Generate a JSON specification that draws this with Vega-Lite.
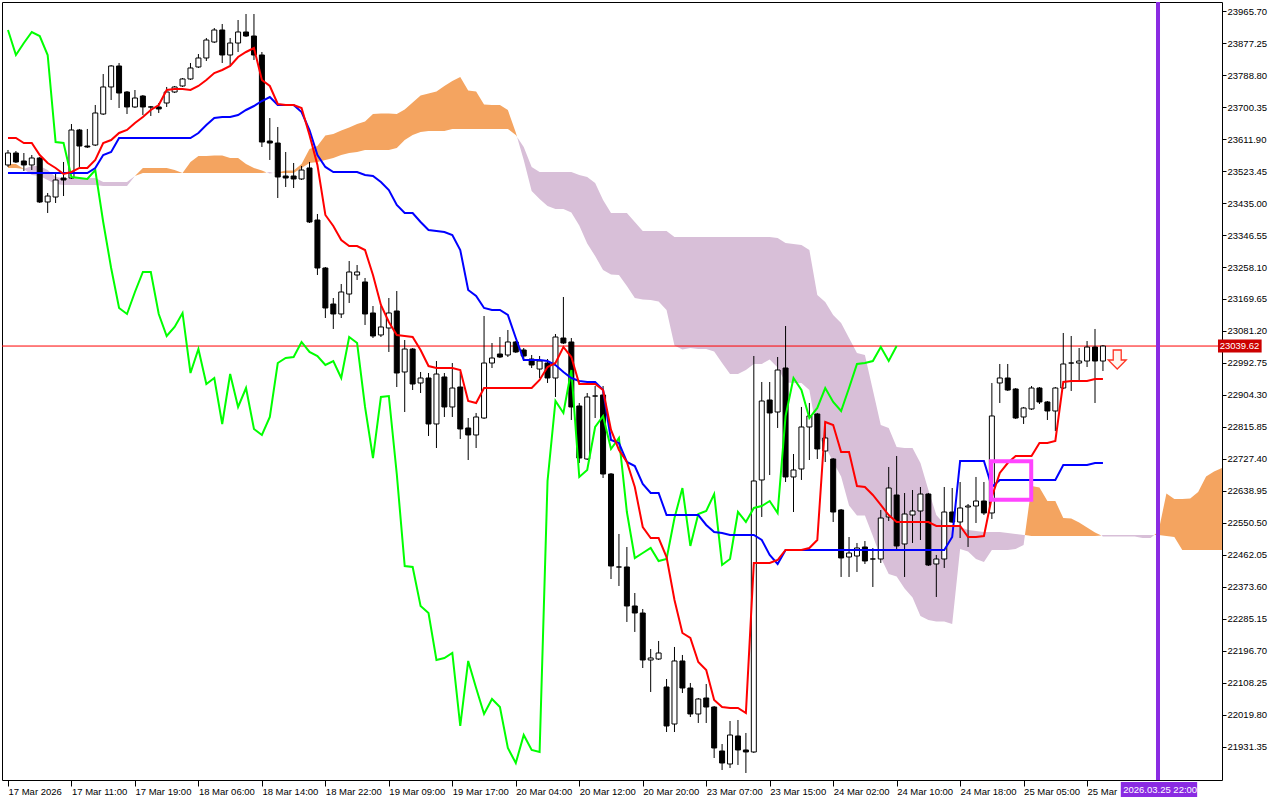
{
"$schema":"https://vega.github.io/schema/vega-lite/v6.json",
"width":1220,"height":778,"autosize":"none",
"padding":{"left":2,"top":2,"right":58,"bottom":20},
"background":"#ffffff",
"resolve":{"axis":{"x":"independent","y":"independent"}},
"config":{"view":{"stroke":"#000000","strokeWidth":1},"axis":{"labelFont":"Liberation Sans","labelColor":"#000000","tickColor":"#000000","domain":false,"grid":false,"title":null,"labelOverlap":false,"labelFlush":false,"labelBound":false}},
"datasets":{
"bars":[
{"i":0,"o":23540.1,"h":23581.5,"l":23534.6,"c":23573.2,"t":23614.6,"k":23517.9},
{"i":1,"o":23573.2,"h":23578.7,"l":23545.6,"c":23548.4,"t":23614.6,"k":23517.9},
{"i":2,"o":23551.1,"h":23573.2,"l":23523.4,"c":23540.1,"t":23600.8,"k":23517.9},
{"i":3,"o":23540.1,"h":23567.7,"l":23526.2,"c":23559.4,"t":23600.8,"k":23517.9},
{"i":4,"o":23559.4,"h":23562.2,"l":23435.0,"c":23437.8,"t":23567.7,"k":23517.9},
{"i":5,"o":23437.8,"h":23462.6,"l":23407.4,"c":23454.3,"t":23545.6,"k":23517.9},
{"i":6,"o":23451.5,"h":23517.9,"l":23435.0,"c":23498.6,"t":23531.8,"k":23517.9},
{"i":7,"o":23504.1,"h":23548.4,"l":23454.3,"c":23498.6,"t":23515.1,"k":23517.9},
{"i":8,"o":23504.1,"h":23653.3,"l":23501.4,"c":23636.8,"t":23520.7,"k":23517.9},
{"i":9,"o":23636.8,"h":23639.6,"l":23534.6,"c":23592.5,"t":23531.8,"k":23517.9},
{"i":10,"o":23592.5,"h":23639.6,"l":23587.0,"c":23589.8,"t":23531.8,"k":23517.9},
{"i":11,"o":23595.3,"h":23705.9,"l":23592.5,"c":23683.8,"t":23553.9,"k":23531.8},
{"i":12,"o":23681.0,"h":23791.5,"l":23678.3,"c":23755.7,"t":23600.8,"k":23567.7},
{"i":13,"o":23755.7,"h":23816.4,"l":23719.7,"c":23813.7,"t":23609.1,"k":23576.0},
{"i":14,"o":23813.7,"h":23822.0,"l":23697.6,"c":23739.0,"t":23628.5,"k":23614.6},
{"i":15,"o":23741.8,"h":23744.5,"l":23681.0,"c":23700.4,"t":23636.8,"k":23614.6},
{"i":16,"o":23700.4,"h":23747.3,"l":23697.6,"c":23725.2,"t":23656.1,"k":23614.6},
{"i":17,"o":23730.7,"h":23733.5,"l":23678.3,"c":23700.4,"t":23672.7,"k":23614.6},
{"i":18,"o":23700.4,"h":23703.1,"l":23675.5,"c":23700.4,"t":23692.1,"k":23614.6},
{"i":19,"o":23700.4,"h":23711.4,"l":23683.8,"c":23694.9,"t":23705.9,"k":23614.6},
{"i":20,"o":23711.4,"h":23755.7,"l":23700.4,"c":23741.8,"t":23747.3,"k":23614.6},
{"i":21,"o":23741.8,"h":23758.4,"l":23739.0,"c":23755.7,"t":23750.1,"k":23614.6},
{"i":22,"o":23758.4,"h":23780.5,"l":23755.7,"c":23777.8,"t":23750.1,"k":23614.6},
{"i":23,"o":23777.8,"h":23822.0,"l":23775.0,"c":23808.2,"t":23747.3,"k":23614.6},
{"i":24,"o":23811.0,"h":23846.8,"l":23808.2,"c":23835.8,"t":23758.4,"k":23628.5},
{"i":25,"o":23835.8,"h":23891.1,"l":23827.5,"c":23885.5,"t":23775.0,"k":23650.6},
{"i":26,"o":23880.0,"h":23918.7,"l":23877.2,"c":23913.2,"t":23794.3,"k":23669.9},
{"i":27,"o":23913.2,"h":23929.8,"l":23822.0,"c":23844.1,"t":23802.6,"k":23672.7},
{"i":28,"o":23844.1,"h":23891.1,"l":23816.4,"c":23877.2,"t":23813.7,"k":23672.7},
{"i":29,"o":23877.2,"h":23940.8,"l":23852.4,"c":23907.7,"t":23838.6,"k":23678.3},
{"i":30,"o":23907.7,"h":23957.4,"l":23893.8,"c":23896.6,"t":23852.4,"k":23692.1},
{"i":31,"o":23896.6,"h":23957.4,"l":23830.3,"c":23844.1,"t":23863.4,"k":23703.1},
{"i":32,"o":23844.1,"h":23852.4,"l":23589.8,"c":23603.6,"t":23775.0,"k":23716.9},
{"i":33,"o":23606.3,"h":23669.9,"l":23553.9,"c":23600.8,"t":23758.4,"k":23728.0},
{"i":34,"o":23600.8,"h":23645.1,"l":23448.8,"c":23506.9,"t":23708.6,"k":23705.9},
{"i":35,"o":23509.6,"h":23576.0,"l":23479.2,"c":23504.1,"t":23705.9,"k":23705.9},
{"i":36,"o":23509.6,"h":23545.6,"l":23476.4,"c":23501.4,"t":23705.9,"k":23705.9},
{"i":37,"o":23501.4,"h":23537.3,"l":23498.6,"c":23526.2,"t":23697.6,"k":23686.5},
{"i":38,"o":23531.8,"h":23548.4,"l":23379.7,"c":23382.5,"t":23622.9,"k":23636.8},
{"i":39,"o":23388.0,"h":23404.6,"l":23236.0,"c":23255.3,"t":23540.1,"k":23567.7},
{"i":40,"o":23255.3,"h":23258.1,"l":23117.1,"c":23144.8,"t":23401.9,"k":23534.6},
{"i":41,"o":23155.8,"h":23172.4,"l":23086.8,"c":23128.2,"t":23371.4,"k":23520.7},
{"i":42,"o":23128.2,"h":23211.1,"l":23117.1,"c":23189.0,"t":23332.7,"k":23520.7},
{"i":43,"o":23183.4,"h":23274.6,"l":23158.6,"c":23244.3,"t":23316.1,"k":23520.7},
{"i":44,"o":23236.0,"h":23263.6,"l":23222.2,"c":23244.3,"t":23316.1,"k":23520.7},
{"i":45,"o":23216.7,"h":23227.7,"l":23097.8,"c":23128.2,"t":23305.1,"k":23512.4},
{"i":46,"o":23131.0,"h":23150.3,"l":23061.8,"c":23067.4,"t":23236.0,"k":23509.6},
{"i":47,"o":23070.2,"h":23150.3,"l":23064.6,"c":23092.3,"t":23153.1,"k":23493.0},
{"i":48,"o":23089.5,"h":23172.4,"l":23023.2,"c":23131.0,"t":23106.1,"k":23470.9},
{"i":49,"o":23136.5,"h":23191.7,"l":22926.4,"c":22965.1,"t":23070.2,"k":23429.5},
{"i":50,"o":22967.9,"h":23056.3,"l":22857.3,"c":23031.4,"t":23067.4,"k":23407.4},
{"i":51,"o":23031.4,"h":23034.2,"l":22918.1,"c":22934.7,"t":23064.6,"k":23407.4},
{"i":52,"o":22937.5,"h":22967.9,"l":22909.8,"c":22951.3,"t":23028.7,"k":23382.5},
{"i":53,"o":22951.3,"h":22965.1,"l":22791.0,"c":22824.2,"t":22984.4,"k":23360.4},
{"i":54,"o":22824.2,"h":22998.2,"l":22757.8,"c":22962.3,"t":22978.9,"k":23357.6},
{"i":55,"o":22954.1,"h":22965.1,"l":22843.5,"c":22871.2,"t":22978.9,"k":23354.8},
{"i":56,"o":22871.2,"h":22992.7,"l":22843.5,"c":22923.6,"t":22978.9,"k":23346.5},
{"i":57,"o":22926.4,"h":22967.9,"l":22782.7,"c":22810.4,"t":22973.4,"k":23305.1},
{"i":58,"o":22813.1,"h":22840.7,"l":22724.6,"c":22793.8,"t":22887.7,"k":23194.5},
{"i":59,"o":22793.8,"h":22854.6,"l":22757.8,"c":22843.5,"t":22882.2,"k":23177.9},
{"i":60,"o":22840.7,"h":23122.7,"l":22838.0,"c":22992.7,"t":22923.6,"k":23144.8},
{"i":61,"o":22992.7,"h":23048.0,"l":22978.9,"c":23006.5,"t":22923.6,"k":23139.3},
{"i":62,"o":23017.6,"h":23064.6,"l":23006.5,"c":23009.3,"t":22923.6,"k":23139.3},
{"i":63,"o":23014.9,"h":23084.0,"l":23009.3,"c":23050.8,"t":22923.6,"k":23125.5},
{"i":64,"o":23050.8,"h":23053.5,"l":23020.4,"c":23023.2,"t":22923.6,"k":23061.8},
{"i":65,"o":23028.7,"h":23034.2,"l":23001.0,"c":23012.1,"t":22923.6,"k":23001.0},
{"i":66,"o":23003.8,"h":23014.9,"l":22978.9,"c":22987.2,"t":22923.6,"k":23001.0},
{"i":67,"o":22976.1,"h":23012.1,"l":22951.3,"c":22998.2,"t":22945.8,"k":23001.0},
{"i":68,"o":22992.7,"h":23003.8,"l":22937.5,"c":22951.3,"t":22981.7,"k":22998.2},
{"i":69,"o":22951.3,"h":23072.9,"l":22898.8,"c":23064.6,"t":22992.7,"k":22987.2},
{"i":70,"o":23061.8,"h":23175.2,"l":23045.2,"c":23048.0,"t":23037.0,"k":22967.9},
{"i":71,"o":23050.8,"h":23061.8,"l":22835.2,"c":22871.2,"t":23009.3,"k":22951.3},
{"i":72,"o":22873.9,"h":22882.2,"l":22716.3,"c":22730.1,"t":22934.7,"k":22943.0},
{"i":73,"o":22727.4,"h":22909.8,"l":22724.6,"c":22898.8,"t":22934.7,"k":22940.2},
{"i":74,"o":22901.5,"h":22929.2,"l":22840.7,"c":22901.5,"t":22934.7,"k":22940.2},
{"i":75,"o":22904.3,"h":22929.2,"l":22674.9,"c":22685.9,"t":22918.1,"k":22918.1},
{"i":76,"o":22685.9,"h":22688.7,"l":22395.7,"c":22431.6,"t":22807.6,"k":22779.9},
{"i":77,"o":22428.9,"h":22520.1,"l":22376.4,"c":22428.9,"t":22752.3,"k":22771.6},
{"i":78,"o":22428.9,"h":22484.2,"l":22276.9,"c":22321.1,"t":22719.1,"k":22719.1},
{"i":79,"o":22321.1,"h":22357.0,"l":22249.3,"c":22301.7,"t":22650.0,"k":22708.1},
{"i":80,"o":22301.7,"h":22312.8,"l":22149.7,"c":22171.8,"t":22539.4,"k":22658.3},
{"i":81,"o":22171.8,"h":22202.2,"l":22083.4,"c":22177.4,"t":22509.0,"k":22633.4},
{"i":82,"o":22174.6,"h":22224.4,"l":22171.8,"c":22191.2,"t":22509.0,"k":22633.4},
{"i":83,"o":22097.2,"h":22119.3,"l":21972.8,"c":21989.4,"t":22456.5,"k":22572.6},
{"i":84,"o":21994.9,"h":22207.8,"l":21972.8,"c":22169.1,"t":22337.7,"k":22572.6},
{"i":85,"o":22169.1,"h":22185.7,"l":22080.6,"c":22094.4,"t":22246.5,"k":22572.6},
{"i":86,"o":22094.4,"h":22108.3,"l":22014.3,"c":22022.6,"t":22232.6,"k":22572.6},
{"i":87,"o":22022.6,"h":22066.8,"l":21997.7,"c":22064.0,"t":22166.3,"k":22572.6},
{"i":88,"o":22066.8,"h":22105.5,"l":21997.7,"c":22041.9,"t":22144.2,"k":22545.0},
{"i":89,"o":22041.9,"h":22044.7,"l":21900.9,"c":21928.6,"t":22061.3,"k":22525.6},
{"i":90,"o":21920.3,"h":21939.6,"l":21867.8,"c":21887.1,"t":22041.9,"k":22522.9},
{"i":91,"o":21884.4,"h":22003.2,"l":21873.3,"c":21964.5,"t":22039.2,"k":22517.4},
{"i":92,"o":21961.8,"h":22006.0,"l":21881.6,"c":21923.1,"t":22039.2,"k":22517.4},
{"i":93,"o":21923.1,"h":21970.1,"l":21859.5,"c":21917.6,"t":22025.3,"k":22517.4},
{"i":94,"o":21917.6,"h":23012.1,"l":21914.8,"c":22666.6,"t":22440.0,"k":22517.4},
{"i":95,"o":22669.4,"h":22940.2,"l":22567.1,"c":22887.7,"t":22440.0,"k":22503.5},
{"i":96,"o":22890.5,"h":22940.2,"l":22683.1,"c":22854.6,"t":22440.0,"k":22462.1},
{"i":97,"o":22857.3,"h":23009.3,"l":22813.1,"c":22973.4,"t":22448.2,"k":22437.2},
{"i":98,"o":22978.9,"h":23095.0,"l":22663.8,"c":22677.7,"t":22475.9,"k":22475.9},
{"i":99,"o":22677.7,"h":22741.2,"l":22580.9,"c":22697.0,"t":22475.9,"k":22475.9},
{"i":100,"o":22699.8,"h":22871.2,"l":22669.4,"c":22815.9,"t":22475.9,"k":22475.9},
{"i":101,"o":22815.9,"h":22882.2,"l":22724.6,"c":22846.3,"t":22481.4,"k":22475.9},
{"i":102,"o":22851.8,"h":22854.6,"l":22727.4,"c":22755.1,"t":22503.5,"k":22475.9},
{"i":103,"o":22749.5,"h":22829.7,"l":22719.1,"c":22785.5,"t":22829.7,"k":22475.9},
{"i":104,"o":22727.4,"h":22730.1,"l":22553.3,"c":22580.9,"t":22821.4,"k":22475.9},
{"i":105,"o":22586.5,"h":22589.2,"l":22401.3,"c":22453.8,"t":22746.8,"k":22475.9},
{"i":106,"o":22456.5,"h":22511.8,"l":22401.3,"c":22467.6,"t":22746.8,"k":22475.9},
{"i":107,"o":22459.3,"h":22495.2,"l":22415.1,"c":22481.4,"t":22652.7,"k":22475.9},
{"i":108,"o":22484.2,"h":22500.7,"l":22437.2,"c":22445.5,"t":22650.0,"k":22475.9},
{"i":109,"o":22451.0,"h":22481.4,"l":22373.6,"c":22451.0,"t":22627.9,"k":22475.9},
{"i":110,"o":22451.0,"h":22586.5,"l":22440.0,"c":22564.3,"t":22600.3,"k":22475.9},
{"i":111,"o":22567.1,"h":22705.3,"l":22556.0,"c":22647.2,"t":22572.6,"k":22475.9},
{"i":112,"o":22627.9,"h":22735.7,"l":22475.9,"c":22487.0,"t":22553.3,"k":22475.9},
{"i":113,"o":22492.5,"h":22633.4,"l":22401.3,"c":22575.4,"t":22553.3,"k":22475.9},
{"i":114,"o":22572.6,"h":22641.7,"l":22495.2,"c":22583.7,"t":22553.3,"k":22475.9},
{"i":115,"o":22583.7,"h":22650.0,"l":22503.5,"c":22630.6,"t":22553.3,"k":22475.9},
{"i":116,"o":22630.6,"h":22633.4,"l":22431.6,"c":22434.4,"t":22553.3,"k":22475.9},
{"i":117,"o":22437.2,"h":22462.1,"l":22346.0,"c":22451.0,"t":22542.2,"k":22475.9},
{"i":118,"o":22451.0,"h":22650.0,"l":22426.2,"c":22580.9,"t":22542.2,"k":22475.9},
{"i":119,"o":22580.9,"h":22647.2,"l":22550.5,"c":22553.3,"t":22542.2,"k":22511.8},
{"i":120,"o":22553.3,"h":22663.8,"l":22509.0,"c":22592.0,"t":22542.2,"k":22721.9},
{"i":121,"o":22594.7,"h":22603.0,"l":22484.2,"c":22597.5,"t":22511.8,"k":22721.9},
{"i":122,"o":22597.5,"h":22677.7,"l":22550.5,"c":22611.3,"t":22511.8,"k":22721.9},
{"i":123,"o":22611.3,"h":22663.8,"l":22572.6,"c":22578.2,"t":22514.6,"k":22721.9},
{"i":124,"o":22578.2,"h":22937.5,"l":22561.6,"c":22846.3,"t":22622.4,"k":22650.0},
{"i":125,"o":22937.5,"h":22990.0,"l":22882.2,"c":22951.3,"t":22688.7,"k":22669.4},
{"i":126,"o":22951.3,"h":22990.0,"l":22915.4,"c":22918.1,"t":22716.3,"k":22669.4},
{"i":127,"o":22920.9,"h":22923.6,"l":22838.0,"c":22840.7,"t":22735.7,"k":22669.4},
{"i":128,"o":22843.5,"h":22871.2,"l":22824.2,"c":22868.4,"t":22735.7,"k":22669.4},
{"i":129,"o":22865.7,"h":22929.2,"l":22862.9,"c":22923.6,"t":22735.7,"k":22669.4},
{"i":130,"o":22923.6,"h":22926.4,"l":22879.4,"c":22885.0,"t":22771.6,"k":22669.4},
{"i":131,"o":22885.0,"h":22887.7,"l":22835.2,"c":22860.1,"t":22771.6,"k":22669.4},
{"i":132,"o":22860.1,"h":22926.4,"l":22804.8,"c":22923.6,"t":22777.2,"k":22669.4},
{"i":133,"o":22923.6,"h":23075.7,"l":22920.9,"c":22990.0,"t":22940.2,"k":22710.8},
{"i":134,"o":22992.7,"h":23067.4,"l":22915.4,"c":22992.7,"t":22943.0,"k":22710.8},
{"i":135,"o":22992.7,"h":23034.2,"l":22943.0,"c":22998.2,"t":22943.0,"k":22710.8},
{"i":136,"o":22998.2,"h":23053.5,"l":22981.7,"c":23036.9,"t":22943.0,"k":22710.8},
{"i":137,"o":23036.9,"h":23086.8,"l":22882.2,"c":22998.2,"t":22948.5,"k":22716.3},
{"i":138,"o":22998.2,"h":23042.4,"l":22970.7,"c":23039.62,"t":22948.5,"k":22716.3}
],
"chikou":[
{"i":0,"v":23913.2},{"i":1,"v":23844.1},{"i":2,"v":23877.2},{"i":3,"v":23907.7},{"i":4,"v":23896.6},{"i":5,"v":23844.1},{"i":6,"v":23603.6},{"i":7,"v":23600.8},{"i":8,"v":23506.9},{"i":9,"v":23504.1},
{"i":10,"v":23501.4},{"i":11,"v":23526.2},{"i":12,"v":23382.5},{"i":13,"v":23255.3},{"i":14,"v":23144.8},{"i":15,"v":23128.2},{"i":16,"v":23189.0},{"i":17,"v":23244.3},{"i":18,"v":23244.3},{"i":19,"v":23128.2},
{"i":20,"v":23067.4},{"i":21,"v":23092.3},{"i":22,"v":23131.0},{"i":23,"v":22965.1},{"i":24,"v":23031.4},{"i":25,"v":22934.7},{"i":26,"v":22951.3},{"i":27,"v":22824.2},{"i":28,"v":22962.3},{"i":29,"v":22871.2},
{"i":30,"v":22923.6},{"i":31,"v":22810.4},{"i":32,"v":22793.8},{"i":33,"v":22843.5},{"i":34,"v":22992.7},{"i":35,"v":23006.5},{"i":36,"v":23009.3},{"i":37,"v":23050.8},{"i":38,"v":23023.2},{"i":39,"v":23012.1},
{"i":40,"v":22987.2},{"i":41,"v":22998.2},{"i":42,"v":22951.3},{"i":43,"v":23064.6},{"i":44,"v":23048.0},{"i":45,"v":22871.2},{"i":46,"v":22730.1},{"i":47,"v":22898.8},{"i":48,"v":22901.5},{"i":49,"v":22685.9},
{"i":50,"v":22431.6},{"i":51,"v":22428.9},{"i":52,"v":22321.1},{"i":53,"v":22301.7},{"i":54,"v":22171.8},{"i":55,"v":22177.4},{"i":56,"v":22191.2},{"i":57,"v":21989.4},{"i":58,"v":22169.1},{"i":59,"v":22094.4},
{"i":60,"v":22022.6},{"i":61,"v":22064.0},{"i":62,"v":22041.9},{"i":63,"v":21928.6},{"i":64,"v":21887.1},{"i":65,"v":21964.5},{"i":66,"v":21923.1},{"i":67,"v":21917.6},{"i":68,"v":22666.6},{"i":69,"v":22887.7},
{"i":70,"v":22854.6},{"i":71,"v":22973.4},{"i":72,"v":22677.7},{"i":73,"v":22697.0},{"i":74,"v":22815.9},{"i":75,"v":22846.3},{"i":76,"v":22755.1},{"i":77,"v":22785.5},{"i":78,"v":22580.9},{"i":79,"v":22453.8},
{"i":80,"v":22467.6},{"i":81,"v":22481.4},{"i":82,"v":22445.5},{"i":83,"v":22451.0},{"i":84,"v":22564.3},{"i":85,"v":22647.2},{"i":86,"v":22487.0},{"i":87,"v":22575.4},{"i":88,"v":22583.7},{"i":89,"v":22630.6},
{"i":90,"v":22434.4},{"i":91,"v":22451.0},{"i":92,"v":22580.9},{"i":93,"v":22553.3},{"i":94,"v":22592.0},{"i":95,"v":22597.5},{"i":96,"v":22611.3},{"i":97,"v":22578.2},{"i":98,"v":22846.3},{"i":99,"v":22951.3},
{"i":100,"v":22918.1},{"i":101,"v":22840.7},{"i":102,"v":22868.4},{"i":103,"v":22923.6},{"i":104,"v":22885.0},{"i":105,"v":22860.1},{"i":106,"v":22923.6},{"i":107,"v":22990.0},{"i":108,"v":22992.7},{"i":109,"v":22998.2},
{"i":110,"v":23036.9},{"i":111,"v":22998.2},{"i":112,"v":23039.62}
],
"cloud":[
{"i":0,"a":23542.8,"b":23531.8,"g":1,"k":"o"},{"i":1,"a":23542.8,"b":23531.8,"g":1,"k":"o"},{"i":2,"a":23529.0,"b":23529.0,"g":1,"k":"o"},
{"i":2,"a":23529.0,"b":23529.0,"g":2,"k":"t"},{"i":3,"a":23512.4,"b":23537.3,"g":2,"k":"t"},{"i":4,"a":23509.6,"b":23537.3,"g":2,"k":"t"},{"i":5,"a":23498.6,"b":23526.2,"g":2,"k":"t"},{"i":6,"a":23487.5,"b":23506.9,"g":2,"k":"t"},
{"i":7,"a":23484.7,"b":23504.1,"g":2,"k":"t"},{"i":8,"a":23484.7,"b":23504.1,"g":2,"k":"t"},{"i":9,"a":23484.7,"b":23504.1,"g":2,"k":"t"},{"i":10,"a":23484.7,"b":23504.1,"g":2,"k":"t"},{"i":11,"a":23484.7,"b":23504.1,"g":2,"k":"t"},
{"i":12,"a":23482.0,"b":23493.0,"g":2,"k":"t"},{"i":13,"a":23482.0,"b":23493.0,"g":2,"k":"t"},{"i":14,"a":23482.0,"b":23493.0,"g":2,"k":"t"},{"i":15,"a":23482.0,"b":23493.0,"g":2,"k":"t"},{"i":16,"a":23509.6,"b":23509.6,"g":2,"k":"t"},
{"i":16,"a":23509.6,"b":23509.6,"g":3,"k":"o"},{"i":17,"a":23531.8,"b":23517.9,"g":3,"k":"o"},{"i":18,"a":23531.8,"b":23517.9,"g":3,"k":"o"},{"i":19,"a":23531.8,"b":23517.9,"g":3,"k":"o"},{"i":20,"a":23531.8,"b":23517.9,"g":3,"k":"o"},
{"i":21,"a":23526.2,"b":23517.9,"g":3,"k":"o"},{"i":22,"a":23517.9,"b":23517.9,"g":3,"k":"o"},{"i":23,"a":23548.4,"b":23517.9,"g":3,"k":"o"},{"i":24,"a":23564.9,"b":23517.9,"g":3,"k":"o"},{"i":25,"a":23564.9,"b":23517.9,"g":3,"k":"o"},
{"i":26,"a":23566.3,"b":23517.9,"g":3,"k":"o"},{"i":27,"a":23566.3,"b":23517.9,"g":3,"k":"o"},{"i":28,"a":23559.4,"b":23517.9,"g":3,"k":"o"},{"i":29,"a":23559.4,"b":23517.9,"g":3,"k":"o"},{"i":30,"a":23542.8,"b":23517.9,"g":3,"k":"o"},
{"i":31,"a":23531.8,"b":23517.9,"g":3,"k":"o"},{"i":32,"a":23524.8,"b":23517.9,"g":3,"k":"o"},{"i":32.6,"a":23519.3,"b":23519.3,"g":3,"k":"o"},
{"i":32.6,"a":23519.3,"b":23519.3,"g":4,"k":"t"},{"i":33,"a":23516.5,"b":23520.7,"g":4,"k":"t"},{"i":33.4,"a":23517.9,"b":23517.9,"g":4,"k":"t"},
{"i":33.4,"a":23517.9,"b":23517.9,"g":5,"k":"o"},{"i":34,"a":23519.3,"b":23517.9,"g":5,"k":"o"},{"i":35,"a":23524.8,"b":23517.9,"g":5,"k":"o"},{"i":36,"a":23524.8,"b":23517.9,"g":5,"k":"o"},{"i":37,"a":23542.8,"b":23531.8,"g":5,"k":"o"},
{"i":38,"a":23584.2,"b":23545.6,"g":5,"k":"o"},{"i":39,"a":23592.5,"b":23548.4,"g":5,"k":"o"},{"i":40,"a":23621.6,"b":23553.9,"g":5,"k":"o"},{"i":41,"a":23625.7,"b":23559.4,"g":5,"k":"o"},{"i":42,"a":23635.4,"b":23567.7,"g":5,"k":"o"},
{"i":43,"a":23643.7,"b":23573.2,"g":5,"k":"o"},{"i":44,"a":23653.3,"b":23576.0,"g":5,"k":"o"},{"i":45,"a":23660.3,"b":23581.5,"g":5,"k":"o"},{"i":46,"a":23681.0,"b":23581.5,"g":5,"k":"o"},{"i":47,"a":23682.4,"b":23581.5,"g":5,"k":"o"},
{"i":48,"a":23682.4,"b":23581.5,"g":5,"k":"o"},{"i":49,"a":23681.0,"b":23587.0,"g":5,"k":"o"},{"i":50,"a":23693.4,"b":23609.1,"g":5,"k":"o"},{"i":51,"a":23712.8,"b":23622.9,"g":5,"k":"o"},{"i":52,"a":23732.1,"b":23631.2,"g":5,"k":"o"},
{"i":53,"a":23737.6,"b":23634.0,"g":5,"k":"o"},{"i":54,"a":23743.2,"b":23634.0,"g":5,"k":"o"},{"i":55,"a":23758.4,"b":23634.0,"g":5,"k":"o"},{"i":56,"a":23772.2,"b":23639.6,"g":5,"k":"o"},{"i":57,"a":23783.3,"b":23639.6,"g":5,"k":"o"},
{"i":58,"a":23745.9,"b":23639.6,"g":5,"k":"o"},{"i":59,"a":23743.2,"b":23639.6,"g":5,"k":"o"},{"i":60,"a":23707.2,"b":23639.6,"g":5,"k":"o"},{"i":61,"a":23705.9,"b":23639.6,"g":5,"k":"o"},{"i":62,"a":23705.9,"b":23639.6,"g":5,"k":"o"},
{"i":63,"a":23692.1,"b":23639.6,"g":5,"k":"o"},{"i":64,"a":23629.9,"b":23622.9,"g":5,"k":"o"},{"i":64.16,"a":23617.4,"b":23617.4,"g":5,"k":"o"},
{"i":64.16,"a":23617.4,"b":23617.4,"g":6,"k":"t"},{"i":65,"a":23553.9,"b":23589.8,"g":6,"k":"t"},{"i":66,"a":23468.2,"b":23534.6,"g":6,"k":"t"},{"i":67,"a":23446.0,"b":23520.7,"g":6,"k":"t"},{"i":68,"a":23426.7,"b":23520.7,"g":6,"k":"t"},
{"i":69,"a":23418.4,"b":23520.7,"g":6,"k":"t"},{"i":70,"a":23418.4,"b":23520.7,"g":6,"k":"t"},{"i":71,"a":23408.7,"b":23520.7,"g":6,"k":"t"},{"i":72,"a":23372.8,"b":23512.4,"g":6,"k":"t"},{"i":73,"a":23323.1,"b":23506.9,"g":6,"k":"t"},
{"i":74,"a":23288.5,"b":23490.3,"g":6,"k":"t"},{"i":75,"a":23249.8,"b":23443.3,"g":6,"k":"t"},{"i":76,"a":23237.4,"b":23407.4,"g":6,"k":"t"},{"i":77,"a":23236.0,"b":23407.4,"g":6,"k":"t"},{"i":78,"a":23205.6,"b":23407.4,"g":6,"k":"t"},
{"i":79,"a":23172.4,"b":23382.5,"g":6,"k":"t"},{"i":80,"a":23168.3,"b":23357.6,"g":6,"k":"t"},{"i":81,"a":23166.9,"b":23357.6,"g":6,"k":"t"},{"i":82,"a":23162.8,"b":23357.6,"g":6,"k":"t"},{"i":83,"a":23139.3,"b":23357.6,"g":6,"k":"t"},
{"i":84,"a":23041.1,"b":23341.0,"g":6,"k":"t"},{"i":85,"a":23030.1,"b":23341.0,"g":6,"k":"t"},{"i":86,"a":23034.2,"b":23341.0,"g":6,"k":"t"},{"i":87,"a":23031.4,"b":23341.0,"g":6,"k":"t"},{"i":88,"a":23031.4,"b":23341.0,"g":6,"k":"t"},
{"i":89,"a":23024.5,"b":23341.0,"g":6,"k":"t"},{"i":90,"a":22992.7,"b":23341.0,"g":6,"k":"t"},{"i":91,"a":22962.3,"b":23341.0,"g":6,"k":"t"},{"i":92,"a":22962.3,"b":23341.0,"g":6,"k":"t"},{"i":93,"a":22973.4,"b":23341.0,"g":6,"k":"t"},
{"i":94,"a":22990.0,"b":23341.0,"g":6,"k":"t"},{"i":95,"a":22990.0,"b":23341.0,"g":6,"k":"t"},{"i":96,"a":23002.4,"b":23341.0,"g":6,"k":"t"},{"i":97,"a":22980.3,"b":23338.3,"g":6,"k":"t"},{"i":98,"a":22938.8,"b":23324.5,"g":6,"k":"t"},
{"i":99,"a":22937.5,"b":23321.7,"g":6,"k":"t"},{"i":100,"a":22937.5,"b":23318.9,"g":6,"k":"t"},{"i":101,"a":22918.1,"b":23305.1,"g":6,"k":"t"},{"i":102,"a":22793.8,"b":23180.7,"g":6,"k":"t"},{"i":103,"a":22762.0,"b":23161.4,"g":6,"k":"t"},
{"i":104,"a":22719.1,"b":23125.5,"g":6,"k":"t"},{"i":105,"a":22679.0,"b":23103.4,"g":6,"k":"t"},{"i":106,"a":22598.9,"b":23061.8,"g":6,"k":"t"},{"i":107,"a":22571.2,"b":23020.4,"g":6,"k":"t"},{"i":108,"a":22571.2,"b":23014.9,"g":6,"k":"t"},
{"i":109,"a":22514.6,"b":22918.1,"g":6,"k":"t"},{"i":110,"a":22455.2,"b":22821.4,"g":6,"k":"t"},{"i":111,"a":22409.6,"b":22813.1,"g":6,"k":"t"},{"i":112,"a":22402.7,"b":22760.6,"g":6,"k":"t"},{"i":113,"a":22369.5,"b":22757.8,"g":6,"k":"t"},
{"i":114,"a":22344.6,"b":22757.8,"g":6,"k":"t"},{"i":115,"a":22293.5,"b":22716.3,"g":6,"k":"t"},{"i":116,"a":22282.4,"b":22641.7,"g":6,"k":"t"},{"i":117,"a":22278.3,"b":22572.6,"g":6,"k":"t"},{"i":118,"a":22278.3,"b":22547.7,"g":6,"k":"t"},
{"i":119,"a":22271.4,"b":22542.2,"g":6,"k":"t"},{"i":120,"a":22478.7,"b":22539.4,"g":6,"k":"t"},{"i":121,"a":22471.8,"b":22531.2,"g":6,"k":"t"},{"i":122,"a":22451.0,"b":22528.4,"g":6,"k":"t"},{"i":123,"a":22442.8,"b":22525.6,"g":6,"k":"t"},
{"i":124,"a":22475.9,"b":22525.6,"g":6,"k":"t"},{"i":125,"a":22475.9,"b":22525.6,"g":6,"k":"t"},{"i":126,"a":22475.9,"b":22522.9,"g":6,"k":"t"},{"i":127,"a":22478.7,"b":22520.1,"g":6,"k":"t"},{"i":128,"a":22489.7,"b":22517.4,"g":6,"k":"t"},
{"i":128.17,"a":22517.4,"b":22517.4,"g":6,"k":"t"},
{"i":128.17,"a":22517.4,"b":22517.4,"g":7,"k":"o"},{"i":129,"a":22652.7,"b":22514.6,"g":7,"k":"o"},{"i":130,"a":22648.6,"b":22514.6,"g":7,"k":"o"},{"i":131,"a":22611.3,"b":22514.6,"g":7,"k":"o"},{"i":132,"a":22611.3,"b":22514.6,"g":7,"k":"o"},
{"i":133,"a":22564.3,"b":22514.6,"g":7,"k":"o"},{"i":134,"a":22562.9,"b":22514.6,"g":7,"k":"o"},{"i":135,"a":22551.9,"b":22514.6,"g":7,"k":"o"},{"i":136,"a":22538.0,"b":22514.6,"g":7,"k":"o"},{"i":137,"a":22524.3,"b":22514.6,"g":7,"k":"o"},
{"i":137.8,"a":22516.0,"b":22516.0,"g":7,"k":"o"},
{"i":137.8,"a":22516.0,"b":22516.0,"g":8,"k":"t"},{"i":138,"a":22513.2,"b":22517.4,"g":8,"k":"t"},{"i":139,"a":22513.2,"b":22517.4,"g":8,"k":"t"},{"i":140,"a":22513.2,"b":22517.4,"g":8,"k":"t"},{"i":141,"a":22513.2,"b":22517.4,"g":8,"k":"t"},
{"i":142,"a":22513.2,"b":22517.4,"g":8,"k":"t"},{"i":143,"a":22509.0,"b":22517.4,"g":8,"k":"t"},{"i":144,"a":22509.0,"b":22517.4,"g":8,"k":"t"},{"i":144.47,"a":22517.4,"b":22517.4,"g":8,"k":"t"},
{"i":144.47,"a":22517.4,"b":22517.4,"g":9,"k":"o"},{"i":145,"a":22527.0,"b":22517.4,"g":9,"k":"o"},{"i":146,"a":22632.0,"b":22514.6,"g":9,"k":"o"},{"i":147,"a":22616.8,"b":22511.8,"g":9,"k":"o"},{"i":148,"a":22616.8,"b":22475.9,"g":9,"k":"o"},
{"i":149,"a":22618.2,"b":22475.9,"g":9,"k":"o"},{"i":150,"a":22636.2,"b":22475.9,"g":9,"k":"o"},{"i":151,"a":22679.0,"b":22475.9,"g":9,"k":"o"},{"i":152,"a":22692.8,"b":22475.9,"g":9,"k":"o"},{"i":153,"a":22702.5,"b":22475.9,"g":9,"k":"o"}
],
"level":[{"price":23039.62,"label":"23039.62"}],
"vline":[{"i":144.94,"label":"2026.03.25 22:00"}],
"box":[{"i0":123.9,"i1":128.96,"p0":22721.0,"p1":22614.9}],
"arrow":[{"i":139.8,"price":23002.4}]
},
"layer":[
{"data":{"name":"cloud"},"mark":{"type":"area","clip":true,"interpolate":"linear","opacity":1},
 "encoding":{
  "x":{"field":"i","type":"quantitative","title":null,"scale":{"domain":[-0.125,152.375],"nice":false,"zero":false},
   "axis":{"title":null,"values":[0,8,16,24,32,40,48,56,64,72,80,88,96,104,112,120,128,136],
    "labelExpr":"['17 Mar 2026','17 Mar 11:00','17 Mar 19:00','18 Mar 06:00','18 Mar 14:00','18 Mar 22:00','19 Mar 09:00','19 Mar 17:00','20 Mar 04:00','20 Mar 12:00','20 Mar 20:00','23 Mar 07:00','23 Mar 15:00','24 Mar 02:00','24 Mar 10:00','24 Mar 18:00','25 Mar 05:00','25 Mar'][round(datum.value/8)]",
    "tickSize":6,"labelAlign":"left","labelBaseline":"top","labelPadding":0,"labelOffset":0,"labelFontSize":9.5,"labelFlush":false,"labelOverlap":false,"labelBound":false}},
  "y":{"field":"a","type":"quantitative","title":null,"scale":{"domain":[21840.13,23990.58],"nice":false,"zero":false},
   "axis":{"title":null,"orient":"right","values":[23965.70,23877.25,23788.80,23700.35,23611.90,23523.45,23435.00,23346.55,23258.10,23169.65,23081.20,22992.75,22904.30,22815.85,22727.40,22638.95,22550.50,22462.05,22373.60,22285.15,22196.70,22108.25,22019.80,21931.35],
    "format":".2f","tickSize":4,"labelPadding":1,"labelFontSize":9.5,"labelAlign":"left","labelBaseline":"middle","labelFlush":false,"labelOverlap":false,"labelBound":false}},
  "y2":{"field":"b"},
  "color":{"field":"k","type":"nominal","scale":{"domain":["o","t"],"range":["#f4a460","#d8bfd8"]},"legend":null},
  "detail":{"field":"g","type":"nominal"}}},
{"data":{"name":"level"},"mark":{"type":"rule","color":"#ff0000","strokeWidth":1},
 "encoding":{"y":{"field":"price","type":"quantitative","axis":null}}},
{"data":{"name":"bars"},"mark":{"type":"rule","color":"#000000","strokeWidth":1},
 "encoding":{"x":{"field":"i","type":"quantitative","axis":null},"y":{"field":"l","type":"quantitative","axis":null},"y2":{"field":"h"}}},
{"data":{"name":"bars"},"mark":{"type":"bar","size":5,"stroke":"#000000","strokeWidth":1},
 "encoding":{"x":{"field":"i","type":"quantitative","axis":null},"y":{"field":"o","type":"quantitative","axis":null},"y2":{"field":"c"},
  "fill":{"condition":{"test":"datum.c < datum.o","value":"#000000"},"value":"#ffffff"}}},
{"data":{"name":"chikou"},"mark":{"type":"line","color":"#00ff00","strokeWidth":2,"interpolate":"linear"},
 "encoding":{"x":{"field":"i","type":"quantitative","axis":null},"y":{"field":"v","type":"quantitative","axis":null}}},
{"data":{"name":"bars"},"mark":{"type":"line","color":"#0000ff","strokeWidth":2},
 "encoding":{"x":{"field":"i","type":"quantitative","axis":null},"y":{"field":"k","type":"quantitative","axis":null}}},
{"data":{"name":"bars"},"mark":{"type":"line","color":"#ff0000","strokeWidth":2},
 "encoding":{"x":{"field":"i","type":"quantitative","axis":null},"y":{"field":"t","type":"quantitative","axis":null}}},
{"data":{"name":"box"},"mark":{"type":"rect","fill":null,"fillOpacity":0,"stroke":"#ff44ff","strokeWidth":4},
 "encoding":{"x":{"field":"i0","type":"quantitative","axis":null},"x2":{"field":"i1"},"y":{"field":"p0","type":"quantitative","axis":null},"y2":{"field":"p1"}}},
{"data":{"name":"arrow"},"mark":{"type":"point","shape":"M-0.42,-1L0.42,-1L0.42,0.05L0.95,0.05L0,1L-0.95,0.05L-0.42,0.05Z","size":361,"filled":false,"fill":"#fff6f0","stroke":"#ff3322","strokeWidth":1.3,"opacity":1},
 "encoding":{"x":{"field":"i","type":"quantitative","axis":null},"y":{"field":"price","type":"quantitative","axis":null}}},
{"data":{"name":"vline"},"mark":{"type":"rule","color":"#8a2be2","strokeWidth":4},
 "encoding":{"x":{"field":"i","type":"quantitative","axis":null}}},
{"data":{"name":"level"},"mark":{"type":"rect","color":"#cc0000","clip":false},
 "encoding":{"x":{"datum":152.5,"type":"quantitative","axis":null},"x2":{"datum":158.0},"y":{"datum":23057.6,"type":"quantitative","axis":null},"y2":{"datum":23021.6}}},
{"data":{"name":"level"},"mark":{"type":"text","color":"#ffffff","align":"left","baseline":"middle","font":"Liberation Sans","fontSize":9.5,"clip":false},
 "encoding":{"x":{"datum":152.72,"type":"quantitative","axis":null},"y":{"field":"price","type":"quantitative","axis":null},"text":{"field":"label"}}},
{"data":{"name":"vline"},"mark":{"type":"rect","color":"#8a2be2","clip":false},
 "encoding":{"x":{"datum":140.25,"type":"quantitative","axis":null},"x2":{"datum":149.875},"y":{"datum":21834.6,"type":"quantitative","axis":null},"y2":{"datum":21793.1}}},
{"data":{"name":"vline"},"mark":{"type":"text","color":"#ffffff","align":"left","baseline":"middle","font":"Liberation Sans","fontSize":9.5,"clip":false},
 "encoding":{"x":{"datum":140.55,"type":"quantitative","axis":null},"y":{"datum":21812.4,"type":"quantitative","axis":null},"text":{"field":"label"}}}
]
}
